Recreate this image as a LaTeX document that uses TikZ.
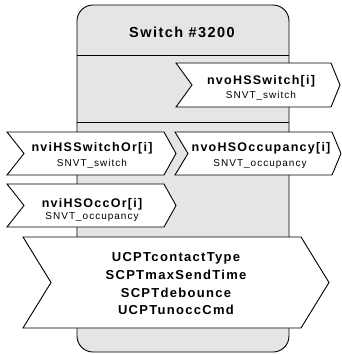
\documentclass[tikz,border=0pt]{standalone}
\usepackage{fontspec}
\setmainfont{Liberation Sans}[LetterSpace=10]
\tikzset{
  blk/.style={draw,line width=0.9pt},
  chev/.style={draw,fill=white,line width=0.9pt},
  nvname/.style={font=\bfseries\fontsize{12.5}{14}\selectfont,anchor=base,inner sep=0pt},
  nvtype/.style={font=\fontsize{10}{12}\selectfont,anchor=base,inner sep=0pt},
  cpname/.style={font=\bfseries\fontsize{13}{15}\selectfont,anchor=base,inner sep=0pt}
}
\begin{document}
\begin{tikzpicture}[x=1pt,y=-1pt]
\useasboundingbox (0,0) rectangle (341,354);
% device block
\draw[blk,fill=gray!20,rounded corners=16pt] (77,5) rectangle (289,352);
\draw[blk] (77,55) -- (289,55);
\draw[blk] (77,122) -- (289,122);
\node[font=\bfseries\fontsize{14.5}{16}\selectfont,anchor=base,inner sep=0pt] (title) at (182,37) {Switch \#3200};
% network variables and config properties
\foreach \xa/\ya/\xb/\yb/\dn/\dt in {176/63/331/107/16/9,7/132/164/175/17/12,175/132/332/175/13/9,7/184/164/227/17/12,23/237/301/328/28/28}
\draw[chev] (\xa,\ya) -- (\xb,\ya) -- ({\xb+\dt},{(\ya+\yb)/2}) -- (\xb,\yb) -- (\xa,\yb) -- ({\xa+\dn},{(\ya+\yb)/2}) -- cycle;
\node[nvname] (sw) at (261,84) {nvoHSSwitch[i]};
\node[nvtype] (swt) at (261,98) {SNVT\_switch};
\node[nvname] (swor) at (92,151) {nviHSSwitchOr[i]};
\node[nvtype] (swort) at (92,166) {SNVT\_switch};
\node[nvname] (occ) at (261,151) {nvoHSOccupancy[i]};
\node[nvtype] (occt) at (260,166) {SNVT\_occupancy};
\node[nvname] (occor) at (92,207) {nviHSOccOr[i]};
\node[nvtype] (occort) at (92,219) {SNVT\_occupancy};
\foreach \nm/\y in {UCPTcontactType/261.5,SCPTmaxSendTime/279.3,SCPTdebounce/297.3,UCPTunoccCmd/314.7}
\node[cpname] (\nm) at (176,\y) {\nm};
\end{tikzpicture}
\end{document}
